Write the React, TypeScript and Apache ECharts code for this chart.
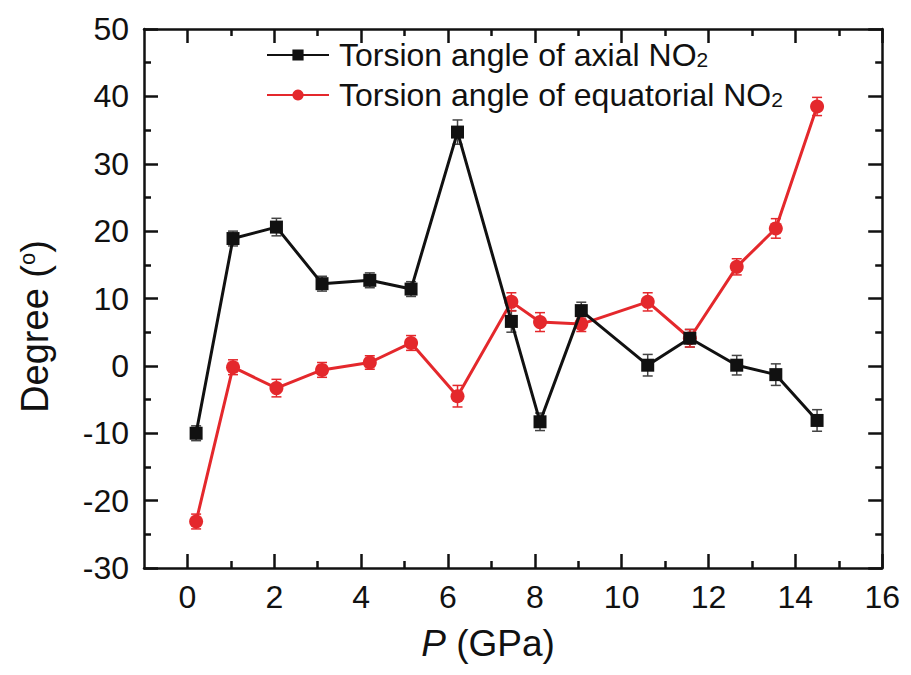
import React, { useEffect, useRef } from "react";
import * as echarts from "echarts";

const pressure = [0.2, 1.05, 2.05, 3.1, 4.2, 5.15, 6.22, 7.46, 8.12, 9.07, 10.6, 11.57, 12.65, 13.55, 14.5];
const axialAngle = [-10.0, 18.9, 20.6, 12.2, 12.7, 11.4, 34.7, 6.6, -8.3, 8.2, 0.1, 4.1, 0.1, -1.3, -8.1];
const axialErr = [1.1, 1.1, 1.3, 1.1, 1.1, 1.1, 1.8, 1.6, 1.3, 1.25, 1.6, 1.3, 1.45, 1.6, 1.6];
const equatorialAngle = [-23.1, -0.2, -3.3, -0.6, 0.5, 3.4, -4.5, 9.5, 6.5, 6.2, 9.5, 4.1, 14.7, 20.4, 38.5];
const equatorialErr = [1.1, 1.1, 1.3, 1.1, 1.0, 1.1, 1.6, 1.35, 1.4, 1.1, 1.35, 1.3, 1.2, 1.45, 1.35];
const xMajorTicks = [0, 2, 4, 6, 8, 10, 12, 14, 16];
const xMinorTicks = [1, 3, 5, 7, 9, 11, 13, 15];

const FONT = "'Liberation Sans', Arial, Helvetica, sans-serif";
const BLACK = "#111111";
const RED = "#e4282c";

function errorSeries(vals: number[], errs: number[], color: string) {
  return {
    type: "custom",
    xAxisIndex: 0,
    yAxisIndex: 0,
    z: 1,
    silent: true,
    encode: { x: 0, y: [1, 2] },
    data: pressure.map((p, i) => [p, vals[i] - errs[i], vals[i] + errs[i]]),
    renderItem: (params: any, api: any) => {
      const x = api.value(0);
      const top = api.coord([x, api.value(2)]);
      const bot = api.coord([x, api.value(1)]);
      const w = 5;
      const style = { stroke: color, lineWidth: 1.5 };
      return {
        type: "group",
        children: [
          { type: "line", shape: { x1: top[0], y1: top[1], x2: bot[0], y2: bot[1] }, style },
          { type: "line", shape: { x1: top[0] - w, y1: top[1], x2: top[0] + w, y2: top[1] }, style },
          { type: "line", shape: { x1: bot[0] - w, y1: bot[1], x2: bot[0] + w, y2: bot[1] }, style },
        ],
      };
    },
  };
}

function xAxisDef(position: string, ticks: number[], len: number, labels: boolean, line: boolean) {
  return {
    type: "value",
    position,
    min: -1,
    max: 16,
    gridIndex: 0,
    axisLine: { show: line, onZero: false, lineStyle: { color: BLACK, width: 2.5 } },
    axisTick: { show: true, inside: true, length: len, customValues: ticks, lineStyle: { color: BLACK, width: 2.5 } },
    axisLabel: labels
      ? { show: true, customValues: ticks, fontSize: 32, color: BLACK, fontFamily: FONT, margin: 13 }
      : { show: false },
    splitLine: { show: false },
  };
}

export default function App() {
  const ref = useRef<HTMLDivElement>(null);
  useEffect(() => {
    if (!ref.current) return;
    const chart = echarts.init(ref.current, null, { renderer: "svg" });
    const legendNames: Record<string, string> = {
      axial: "Torsion angle of axial NO{sub|2}",
      equatorial: "Torsion angle of equatorial NO{sub|2}",
    };
    chart.setOption({
      animation: false,
      backgroundColor: "#ffffff",
      grid: { left: 130, top: 21, right: 15, bottom: 87, containLabel: false },
      legend: {
        orient: "vertical",
        left: 253,
        top: 26,
        itemWidth: 62,
        itemHeight: 14,
        itemGap: 8,
        data: ["axial", "equatorial"],
        formatter: (name: string) => legendNames[name],
        textStyle: {
          fontSize: 32,
          color: BLACK,
          fontFamily: FONT,
          padding: [0, 0, 0, 5],
          rich: { sub: { fontSize: 21, fontFamily: FONT, color: BLACK, padding: [9, 0, 0, 0] } },
        },
      },
      xAxis: [
        {
          ...xAxisDef("bottom", xMajorTicks, 14, true, true),
          name: "{i|P} (GPa)",
          nameLocation: "middle",
          nameGap: 57,
          nameTextStyle: {
            fontSize: 37,
            color: BLACK,
            fontFamily: FONT,
            padding: [0, 50, 0, 0],
            rich: { i: { fontSize: 37, fontStyle: "italic", fontFamily: FONT, color: BLACK } },
          },
        },
        xAxisDef("bottom", xMinorTicks, 7, false, false),
        xAxisDef("top", xMajorTicks, 14, false, true),
        xAxisDef("top", xMinorTicks, 7, false, false),
      ],
      yAxis: [
        {
          type: "value",
          position: "left",
          min: -30,
          max: 50,
          interval: 10,
          name: "Degree ({sup|o})",
          nameLocation: "middle",
          nameGap: 90,
          nameTextStyle: {
            fontSize: 38,
            color: BLACK,
            fontFamily: FONT,
            padding: [0, 56, 0, 0],
            rich: { sup: { fontSize: 22, fontFamily: FONT, color: BLACK, padding: [0, 0, 16, 0] } },
          },
          axisLine: { show: true, onZero: false, lineStyle: { color: BLACK, width: 2.5 } },
          axisTick: { show: true, inside: true, length: 14, lineStyle: { color: BLACK, width: 2.5 } },
          minorTick: { show: true, splitNumber: 2, length: 7, lineStyle: { color: BLACK, width: 2.5 } },
          axisLabel: { fontSize: 32, color: BLACK, fontFamily: FONT, margin: 15 },
          splitLine: { show: false },
          minorSplitLine: { show: false },
        },
        {
          type: "value",
          position: "right",
          min: -30,
          max: 50,
          interval: 10,
          axisLine: { show: true, onZero: false, lineStyle: { color: BLACK, width: 2.5 } },
          axisTick: { show: true, inside: true, length: 14, lineStyle: { color: BLACK, width: 2.5 } },
          minorTick: { show: true, splitNumber: 2, length: 7, lineStyle: { color: BLACK, width: 2.5 } },
          axisLabel: { show: false },
          splitLine: { show: false },
          minorSplitLine: { show: false },
        },
      ],
      series: [
        errorSeries(axialAngle, axialErr, "#444444"),
        errorSeries(equatorialAngle, equatorialErr, RED),
        {
          name: "axial",
          type: "line",
          xAxisIndex: 0,
          yAxisIndex: 0,
          z: 3,
          data: pressure.map((p, i) => [p, axialAngle[i]]),
          symbol: "rect",
          symbolSize: 13,
          lineStyle: { color: BLACK, width: 3 },
          itemStyle: { color: BLACK },
        },
        {
          name: "equatorial",
          type: "line",
          xAxisIndex: 0,
          yAxisIndex: 0,
          z: 2,
          data: pressure.map((p, i) => [p, equatorialAngle[i]]),
          symbol: "circle",
          symbolSize: 14,
          lineStyle: { color: RED, width: 3 },
          itemStyle: { color: RED },
        },
      ],
    });
    return () => chart.dispose();
  }, []);
  return <div ref={ref} style={{ width: 895, height: 659 }} />;
}
